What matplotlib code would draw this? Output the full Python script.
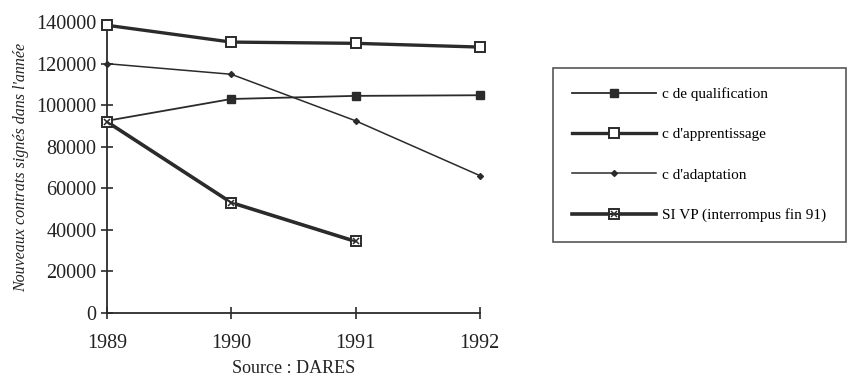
import matplotlib
matplotlib.use("Agg")
import matplotlib.pyplot as plt

# Donnees
annees = [1989, 1990, 1991, 1992]
qualification = [92500, 103000, 104500, 104800]
apprentissage = [138500, 130400, 129800, 128000]
adaptation = [120000, 114900, 92500, 66100]
annees_sivp = [1989, 1990, 1991]
sivp = [92000, 53100, 34400]

yticks = [0, 20000, 40000, 60000, 80000, 100000, 120000, 140000]

plt.rcParams['font.family'] = ['Liberation Serif', 'DejaVu Serif']
col = "#2b2b2b"

fig = plt.figure(figsize=(8.63, 3.82), dpi=100)
ax = fig.add_axes([0.124, 0.181, 0.432, 0.761])

l_q, = ax.plot(annees, qualification, "-", color=col, lw=1.3, marker="s",
               ms=5.5, mfc=col, mec=col, clip_on=False, zorder=3)
l_a, = ax.plot(annees, apprentissage, "-", color=col, lw=2.4, marker="s",
               ms=7, mfc="white", mec=col, mew=1.4, clip_on=False, zorder=3)
l_d, = ax.plot(annees, adaptation, "-", color=col, lw=1.1, marker="D",
               ms=3, mfc=col, mec=col, clip_on=False, zorder=3)
l_s, = ax.plot(annees_sivp, sivp, "-", color=col, lw=2.6, marker="s",
               ms=7, mfc="white", mec=col, mew=1.4, clip_on=False, zorder=3)
l_sx, = ax.plot(annees_sivp, sivp, "none", color=col, marker="x",
                ms=4, mew=1.1, mec=col, clip_on=False, zorder=4)

ax.set_xlim(1989, 1992)
ax.set_ylim(0, 140000)
ax.set_xticks(annees)
ax.set_xticklabels([str(a) for a in annees])
ax.set_yticks(yticks)
ax.set_yticklabels([str(v) for v in yticks])
for s in ["top", "right"]:
    ax.spines[s].set_visible(False)
for s in ["left", "bottom"]:
    ax.spines[s].set_color(col)
    ax.spines[s].set_linewidth(1.3)
ax.tick_params(direction="inout", length=8, width=1.2, colors=col,
               labelsize=14.5, labelcolor="#222222")
ax.tick_params(axis="x", pad=11)

ax.set_ylabel("Nouveaux contrats signés dans l'année", fontsize=11.5,
              style="italic", color="#222222", labelpad=5)
ax.set_xlabel("Source : DARES", fontsize=13, color="#222222", labelpad=5)

leg = fig.legend([l_q, l_a, l_d, (l_s, l_sx)],
                 ["c de qualification", "c d'apprentissage", "c d'adaptation",
                  "SI VP (interrompus fin 91)"],
                 loc="upper left", bbox_to_anchor=(0.641, 0.822),
                 fontsize=11, handlelength=5.5, numpoints=1,
                 labelspacing=1.75, borderpad=1.25, handletextpad=0.4,
                 borderaxespad=0, fancybox=False, frameon=True)
leg.get_frame().set_edgecolor(col)
leg.get_frame().set_linewidth(1.2)

fig.savefig("out.png", dpi=100, facecolor="white")
